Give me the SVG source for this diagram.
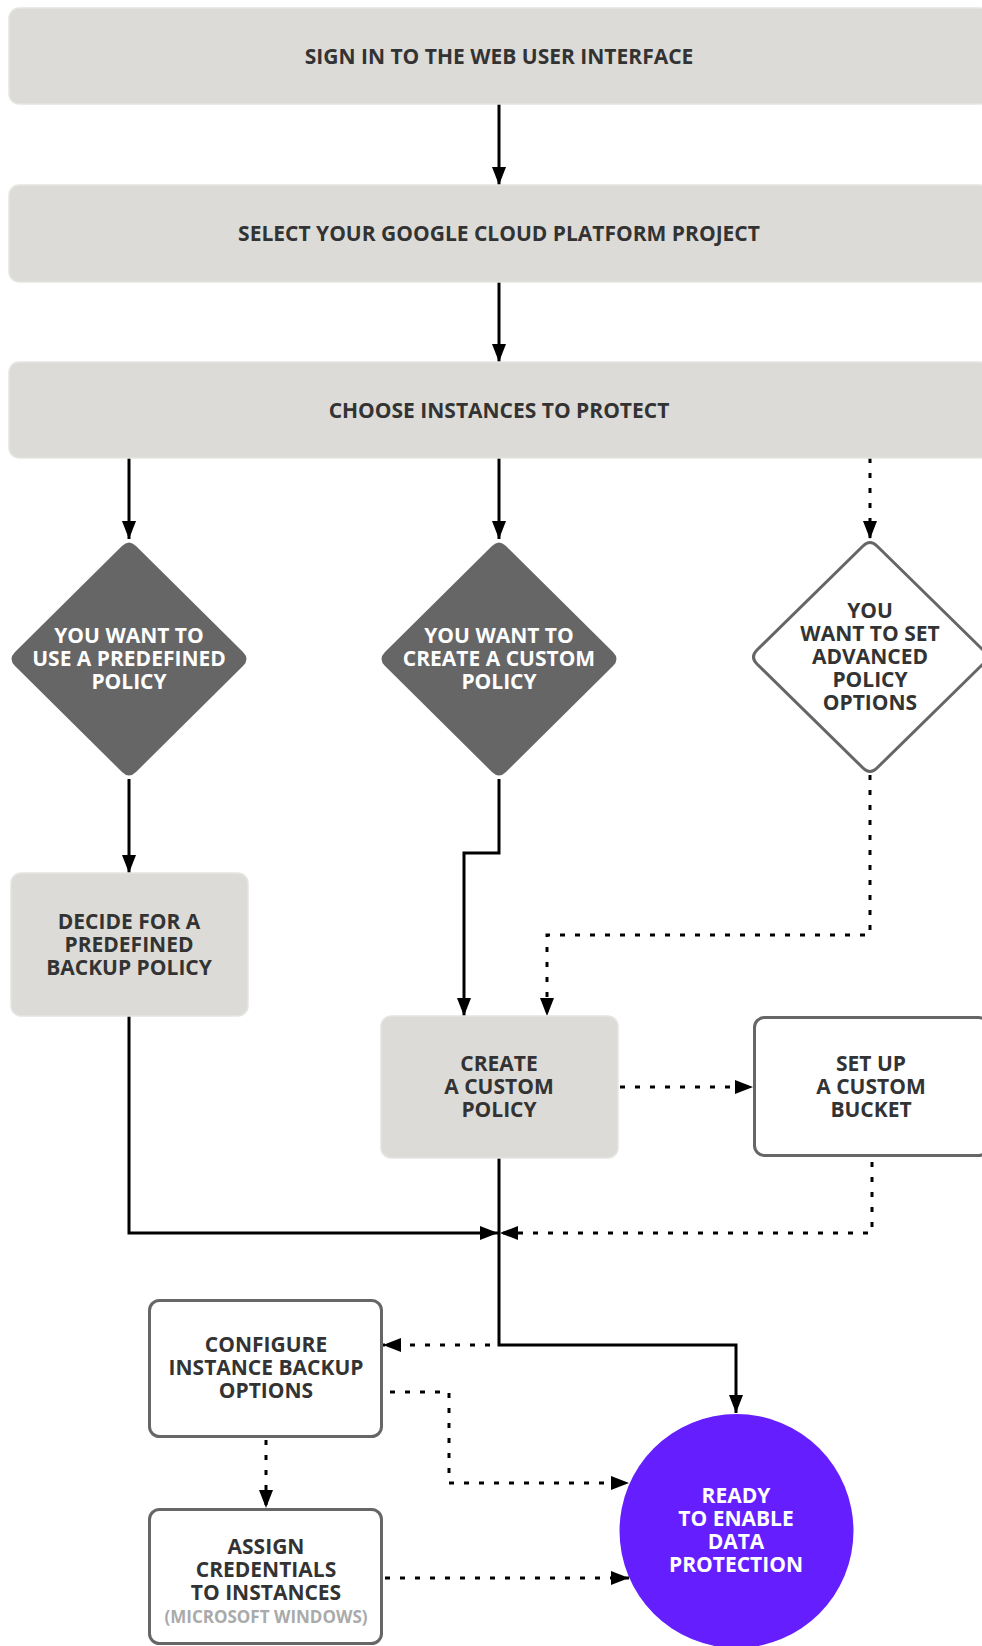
<svg xmlns="http://www.w3.org/2000/svg" width="982" height="1646" viewBox="0 0 982 1646">
  <style>
    .txt { font-family: "Open Sans", "Noto Sans", "DejaVu Sans", sans-serif; font-weight: 700; font-size: 21px; fill: #333333; text-anchor: middle; }
    .inv { fill: #ffffff; }
    .note { font-size: 17px; fill: #aaaaaa; }
    .step { fill: #dcdbd7; stroke: #e6e5e2; stroke-width: 1.5; }
    .frame { fill: #ffffff; stroke: #666666; stroke-width: 3; }
    .dark { fill: #666666; }
    .solid { fill: none; stroke: #000000; stroke-width: 3; marker-end: url(#arrow); }
    .dots { fill: none; stroke: #000000; stroke-width: 3; stroke-dasharray: 5 10; marker-end: url(#arrow); }
  </style>
  <defs>
    <marker id="arrow" markerUnits="userSpaceOnUse" markerWidth="18" markerHeight="14" refX="18" refY="7" orient="auto">
      <path d="M0,0 L18,7 L0,14 Z" fill="#000000"/>
    </marker>
  </defs>
  <rect width="982" height="1646" fill="#ffffff"/>

  <!-- connectors -->
  <g id="connectors">
    <path class="solid" d="M499,104 V185"/>
    <path class="solid" d="M499,282 V362"/>
    <path class="solid" d="M129,458 V539"/>
    <path class="solid" d="M499,458 V539"/>
    <path class="dots" d="M870,458 V539"/>
    <path class="solid" d="M129,779 V873"/>
    <path class="solid" d="M499,779 V853 H464 V1016"/>
    <path class="dots" d="M870,775 V935 H547 V1016"/>
    <path class="dots" d="M620,1087 H753"/>
    <path class="solid" d="M129,1016 V1233 H498"/>
    <path class="dots" d="M872,1162 V1233 H500"/>
    <path class="solid" d="M499,1158 V1345 H736 V1413"/>
    <path class="dots" d="M490,1345 H383"/>
    <path class="dots" d="M390,1392 H449 V1483 H629"/>
    <path class="dots" d="M266,1440 V1508"/>
    <path class="dots" d="M385,1578 H629"/>
  </g>

  <!-- top steps -->
  <g id="sign-in">
    <rect class="step" x="9" y="8" width="981" height="96" rx="10"/>
    <text class="txt" x="499" y="64">SIGN IN TO THE WEB USER INTERFACE</text>
  </g>
  <g id="select-project">
    <rect class="step" x="9" y="185" width="981" height="97" rx="10"/>
    <text class="txt" x="499" y="241">SELECT YOUR GOOGLE CLOUD PLATFORM PROJECT</text>
  </g>
  <g id="choose-instances">
    <rect class="step" x="9" y="362" width="981" height="96" rx="10"/>
    <text class="txt" x="499" y="418">CHOOSE INSTANCES TO PROTECT</text>
  </g>

  <!-- decisions -->
  <g id="decision-predefined">
    <path class="dark" d="M136,546 L243,652 Q250,659 243,666 L136,772 Q129,779 122,772 L15,666 Q8,659 15,652 L122,546 Q129,539 136,546 Z"/>
    <text class="txt inv" x="129" y="643">YOU WANT TO</text>
    <text class="txt inv" x="129" y="666">USE A PREDEFINED</text>
    <text class="txt inv" x="129" y="689">POLICY</text>
  </g>
  <g id="decision-custom">
    <path class="dark" d="M506,546 L613,652 Q620,659 613,666 L506,772 Q499,779 492,772 L385,666 Q378,659 385,652 L492,546 Q499,539 506,546 Z"/>
    <text class="txt inv" x="499" y="643">YOU WANT TO</text>
    <text class="txt inv" x="499" y="666">CREATE A CUSTOM</text>
    <text class="txt inv" x="499" y="689">POLICY</text>
  </g>
  <g id="decision-advanced">
    <path class="frame" d="M877,546 L983,650 Q990,657 983,664 L877,768 Q870,775 863,768 L757,664 Q750,657 757,650 L863,546 Q870,539 877,546 Z"/>
    <text class="txt" x="870" y="618">YOU</text>
    <text class="txt" x="870" y="641">WANT TO SET</text>
    <text class="txt" x="870" y="664">ADVANCED</text>
    <text class="txt" x="870" y="687">POLICY</text>
    <text class="txt" x="870" y="710">OPTIONS</text>
  </g>

  <!-- policy steps -->
  <g id="predefined-policy">
    <rect class="step" x="11" y="873" width="237" height="143" rx="10"/>
    <text class="txt" x="129" y="929">DECIDE FOR A</text>
    <text class="txt" x="129" y="952">PREDEFINED</text>
    <text class="txt" x="129" y="975">BACKUP POLICY</text>
  </g>
  <g id="custom-policy">
    <rect class="step" x="381" y="1016" width="237" height="142" rx="10"/>
    <text class="txt" x="499" y="1071">CREATE</text>
    <text class="txt" x="499" y="1094">A CUSTOM</text>
    <text class="txt" x="499" y="1117">POLICY</text>
  </g>
  <g id="custom-bucket">
    <rect class="frame" x="754.5" y="1017.5" width="234" height="138" rx="10"/>
    <text class="txt" x="871" y="1071">SET UP</text>
    <text class="txt" x="871" y="1094">A CUSTOM</text>
    <text class="txt" x="871" y="1117">BUCKET</text>
  </g>

  <!-- instance steps -->
  <g id="backup-options">
    <rect class="frame" x="149.5" y="1300.5" width="232" height="136" rx="10"/>
    <text class="txt" x="266" y="1352">CONFIGURE</text>
    <text class="txt" x="266" y="1375">INSTANCE BACKUP</text>
    <text class="txt" x="266" y="1398">OPTIONS</text>
  </g>
  <g id="assign-credentials">
    <rect class="frame" x="149.5" y="1509.5" width="232" height="134" rx="10"/>
    <text class="txt" x="266" y="1554">ASSIGN</text>
    <text class="txt" x="266" y="1577">CREDENTIALS</text>
    <text class="txt" x="266" y="1600">TO INSTANCES</text>
    <text class="txt note" x="266" y="1623">(MICROSOFT WINDOWS)</text>
  </g>

  <!-- end state -->
  <g id="ready">
    <circle cx="736.5" cy="1531" r="117" fill="#651fff"/>
    <text class="txt inv" x="736" y="1503">READY</text>
    <text class="txt inv" x="736" y="1526">TO ENABLE</text>
    <text class="txt inv" x="736" y="1549">DATA</text>
    <text class="txt inv" x="736" y="1572">PROTECTION</text>
  </g>
</svg>
